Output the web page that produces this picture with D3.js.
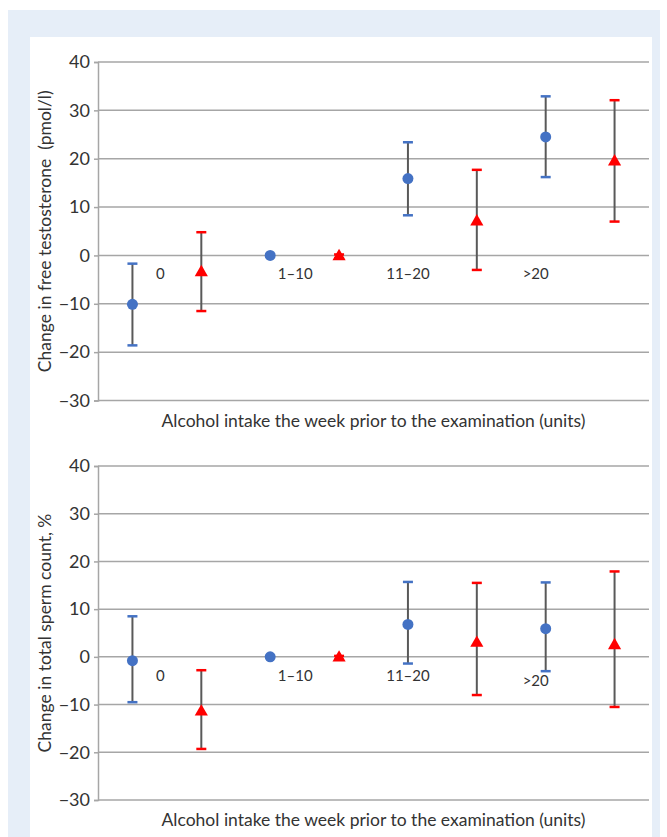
<!DOCTYPE html>
<html>
<head>
<meta charset="utf-8">
<script src="https://cdn.jsdelivr.net/npm/d3@7"></script>
<style>
  body { margin: 0; background: #fff; }
</style>
</head>
<body>
<div id="chart"></div>
<script>
const categories = ["0", "1\u201310", "11\u201320", ">20"];
const yTicks = [40, 30, 20, 10, 0, -10, -20, -30];

// free testosterone (pmol/l)
const testoBlue   = [-10.1, 0, 15.9, 24.5];
const testoBlueLo = [-18.6, 0, 8.3, 16.2];
const testoBlueHi = [-1.7, 0, 23.4, 32.9];
const testoRed    = [-3.5, -0.2, 7.0, 19.4];
const testoRedLo  = [-11.5, -0.6, -3.0, 7.0];
const testoRedHi  = [4.8, 0.2, 17.7, 32.1];

// total sperm count (%)
const spermBlue   = [-0.8, 0, 6.8, 5.9];
const spermBlueLo = [-9.5, 0, -1.4, -3.0];
const spermBlueHi = [8.5, 0, 15.7, 15.6];
const spermRed    = [-11.5, -0.2, 2.9, 2.4];
const spermRedLo  = [-19.3, -0.6, -8.0, -10.5];
const spermRedHi  = [-2.8, 0.2, 15.5, 17.9];

const W = 667, H = 837;
const blue = "#4472c4", red = "#ff0000", grid = "#a6a6a6";
const font = "Lato, 'Open Sans', sans-serif";

const svg = d3.select("#chart").append("svg")
  .attr("width", W).attr("height", H)
  .style("font-family", font);

svg.append("rect").attr("x", 8).attr("y", 10).attr("width", 652).attr("height", H - 10).attr("fill", "#e6eef8");
svg.append("rect").attr("x", 30).attr("y", 37).attr("width", 622).attr("height", H - 37).attr("fill", "#fff");

const slots = [];
categories.forEach(c => { slots.push(c + "|b"); slots.push(c + "|r"); });

const x = d3.scaleBand().domain(slots).range([98, 649]).padding(0);
const cx = k => x(k) + x.bandwidth() / 2;

// label offsets from blue slot center (px)
const labelDx = [28, 25, 0, -10];

function panel(top, bottom, title, b, bLo, bHi, r, rLo, rHi, lastLabelDy) {
  const y = d3.scaleLinear().domain([-30, 40]).range([bottom, top]);
  const g = svg.append("g");

  g.append("g").selectAll("line").data(yTicks).join("line")
    .attr("x1", 98).attr("x2", 649)
    .attr("y1", d => y(d)).attr("y2", d => y(d))
    .attr("stroke", grid).attr("stroke-width", 1.5);

  const ax = g.append("g").attr("transform", "translate(98,0)")
    .call(d3.axisLeft(y).tickValues(yTicks).tickSize(4).tickPadding(4)
      .tickFormat(d => d < 0 ? "\u2212" + Math.abs(d) : d));
  ax.select(".domain").attr("stroke", grid).attr("stroke-width", 1.5);
  ax.selectAll(".tick line").attr("stroke", grid).attr("stroke-width", 1.5);
  ax.selectAll("text").attr("fill", "#333").style("font-size", "18px").style("font-family", font);

  g.append("text")
    .attr("transform", `translate(45,${(top + bottom) / 2}) rotate(-90)`)
    .attr("dy", "0.35em")
    .attr("text-anchor", "middle")
    .style("white-space", "pre")
    .attr("fill", "#333").style("font-size", "17.5px")
    .text(title);

  g.append("text")
    .attr("x", 373.5).attr("y", bottom + 26)
    .attr("text-anchor", "middle")
    .attr("fill", "#333").style("font-size", "17.5px")
    .text("Alcohol intake the week prior to the examination (units)");

  const pts = [];
  categories.forEach((c, i) => {
    pts.push({ k: c + "|b", v: b[i], lo: bLo[i], hi: bHi[i], col: blue, shape: "c" });
    pts.push({ k: c + "|r", v: r[i], lo: rLo[i], hi: rHi[i], col: red, shape: "t" });
  });

  const eb = g.append("g").selectAll("g").data(pts.filter(d => d.hi > d.lo)).join("g");
  eb.append("line")
    .attr("x1", d => cx(d.k)).attr("x2", d => cx(d.k))
    .attr("y1", d => y(d.hi)).attr("y2", d => y(d.lo))
    .attr("stroke", "#595959").attr("stroke-width", 2);
  ["hi", "lo"].forEach(end => {
    eb.append("line")
      .attr("x1", d => cx(d.k) - 5).attr("x2", d => cx(d.k) + 5)
      .attr("y1", d => y(d[end])).attr("y2", d => y(d[end]))
      .attr("stroke", d => d.col).attr("stroke-width", 2.5);
  });

  g.append("g").selectAll("circle").data(pts.filter(d => d.shape === "c")).join("circle")
    .attr("cx", d => cx(d.k)).attr("cy", d => y(d.v)).attr("r", 5.5)
    .attr("fill", blue);

  g.append("g").selectAll("path").data(pts.filter(d => d.shape === "t")).join("path")
    .attr("transform", d => `translate(${cx(d.k)},${y(d.v)})`)
    .attr("d", d3.symbol(d3.symbolTriangle, 75))
    .attr("fill", red);

  g.append("g").selectAll("text").data(categories).join("text")
    .attr("x", (d, i) => cx(d + "|b") + labelDx[i])
    .attr("y", (d, i) => y(0) + 24 + (i === 3 ? lastLabelDy : 0))
    .attr("text-anchor", "middle")
    .attr("fill", "#333").style("font-size", "15px")
    .text(d => d);
}

panel(62, 400.5, "Change in free testosterone  (pmol/l)",
  testoBlue, testoBlueLo, testoBlueHi, testoRed, testoRedLo, testoRedHi, 0);
panel(466, 800, "Change in total sperm count, %",
  spermBlue, spermBlueLo, spermBlueHi, spermRed, spermRedLo, spermRedHi, 5);
</script>
</body>
</html>
